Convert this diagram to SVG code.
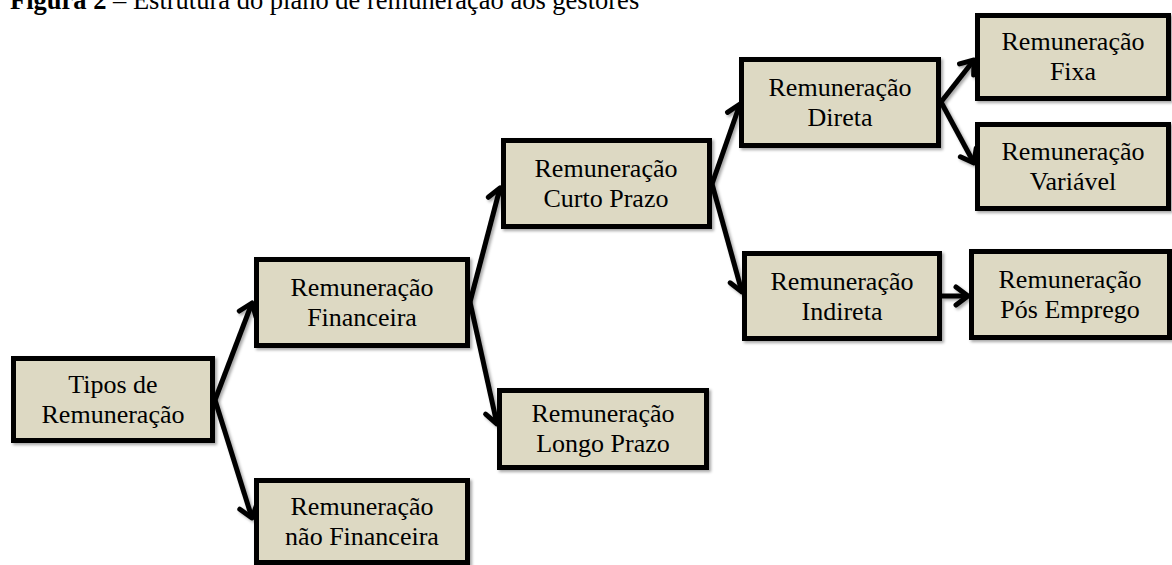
<svg xmlns="http://www.w3.org/2000/svg" width="1172" height="565" viewBox="0 0 1172 565">
<style>
.box{fill:#DDD9C3;stroke:#000;stroke-width:5;filter:url(#sh)}
.t{font-family:"Liberation Serif","Times New Roman",serif;font-size:26px;fill:#000;text-anchor:middle}
.title{font-family:"Liberation Serif","Times New Roman",serif;font-size:26.5px;fill:#000}
.c{fill:none;stroke:#000;stroke-width:5;marker-end:url(#ah);filter:url(#sh)}
</style>
<defs>
<filter id="sh" filterUnits="userSpaceOnUse" x="0" y="0" width="1172" height="565">
<feDropShadow dx="2" dy="2" stdDeviation="1.5" flood-color="#000" flood-opacity="0.35"/>
</filter>
<marker id="ah" markerUnits="userSpaceOnUse" markerWidth="24" markerHeight="24" viewBox="0 0 24 24" refX="18" refY="12" orient="auto" overflow="visible">
<path d="M6,3 L18,12 L6,21" fill="none" stroke="#000" stroke-width="5" stroke-linecap="round" stroke-linejoin="round"/>
</marker>
</defs>
<text class="title" x="10" y="9"><tspan font-weight="bold">Figura 2</tspan> – Estrutura do plano de remuneração aos gestores</text>
<g id="connectors">
<path class="c" d="M215,400 L252,303"/>
<path class="c" d="M215,400 L252,518"/>
<path class="c" d="M470,302 L500,188"/>
<path class="c" d="M470,302 L497,424"/>
<path class="c" d="M712,184 L740,104"/>
<path class="c" d="M712,184 L742,292"/>
<path class="c" d="M941,102 L974,60"/>
<path class="c" d="M941,102 L974,163"/>
<path class="c" d="M942,296 L968,296"/>
</g>
<g id="n-tipos"><rect class="box" x="13.5" y="358.5" width="199" height="82"/><text class="t" x="113" y="393">Tipos de</text><text class="t" x="113" y="423">Remuneração</text></g>
<g id="n-financeira"><rect class="box" x="256.5" y="259.5" width="211" height="86"/><text class="t" x="362" y="296">Remuneração</text><text class="t" x="362" y="326">Financeira</text></g>
<g id="n-naofinanceira"><rect class="box" x="256.5" y="480.5" width="211" height="82"/><text class="t" x="362" y="515">Remuneração</text><text class="t" x="362" y="545">não Financeira</text></g>
<g id="n-curto"><rect class="box" x="503.5" y="140.5" width="206" height="86"/><text class="t" x="606" y="177">Remuneração</text><text class="t" x="606" y="207">Curto Prazo</text></g>
<g id="n-longo"><rect class="box" x="499.5" y="390.5" width="207" height="77"/><text class="t" x="603" y="422">Remuneração</text><text class="t" x="603" y="452">Longo Prazo</text></g>
<g id="n-direta"><rect class="box" x="741.5" y="59.5" width="197" height="86"/><text class="t" x="840" y="96">Remuneração</text><text class="t" x="840" y="126">Direta</text></g>
<g id="n-indireta"><rect class="box" x="744.5" y="253.5" width="195" height="85"/><text class="t" x="842" y="290">Remuneração</text><text class="t" x="842" y="320">Indireta</text></g>
<g id="n-fixa"><rect class="box" x="977.5" y="15.5" width="191" height="83"/><text class="t" x="1073" y="50">Remuneração</text><text class="t" x="1073" y="80">Fixa</text></g>
<g id="n-variavel"><rect class="box" x="977.5" y="124.5" width="191" height="84"/><text class="t" x="1073" y="160">Remuneração</text><text class="t" x="1073" y="190">Variável</text></g>
<g id="n-pos"><rect class="box" x="971.5" y="251.5" width="198" height="86"/><text class="t" x="1070" y="288">Remuneração</text><text class="t" x="1070" y="318">Pós Emprego</text></g>
</svg>
